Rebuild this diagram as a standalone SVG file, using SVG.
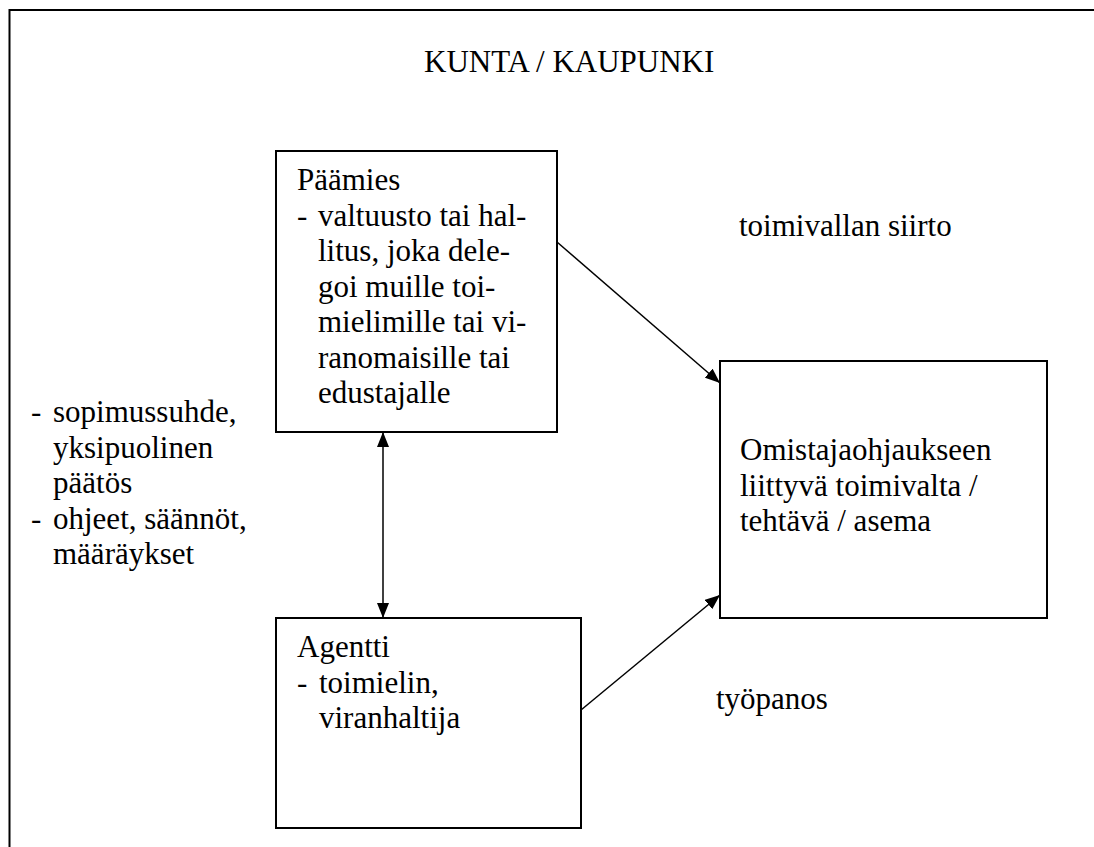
<svg xmlns="http://www.w3.org/2000/svg" width="1094" height="847" viewBox="0 0 1094 847">
<style>
  text { font-family: 'Liberation Serif', 'DejaVu Serif', serif; font-size: 31px; fill: #000; }
  .box { fill: #fff; stroke: #000; stroke-width: 2; }
  .frame { fill: none; stroke: #000; stroke-width: 2; }
  .conn { fill: none; stroke: #000; stroke-width: 1.5; }
</style>
<defs>
  <marker id="ah" markerUnits="userSpaceOnUse" markerWidth="16" markerHeight="12" refX="15" refY="6" orient="auto-start-reverse">
    <path d="M0,0 L15,6 L0,12 z" fill="#000"/>
  </marker>
</defs>
<rect width="1094" height="847" fill="#fff"/>
<g font-family="Liberation Serif, serif" font-size="31">
<g id="frame">
  <path class="frame" d="M9.5,847 V10 H1094"/>
  <text x="424" y="72">KUNTA / KAUPUNKI</text>
</g>
<g id="connectors">
  <line class="conn" x1="383" y1="432" x2="383" y2="618" marker-start="url(#ah)" marker-end="url(#ah)"/>
  <line class="conn" x1="557" y1="242" x2="720" y2="383" marker-end="url(#ah)"/>
  <line class="conn" x1="581" y1="710" x2="720" y2="595" marker-end="url(#ah)"/>
</g>
<g id="paamies">
  <rect class="box" x="276" y="151" width="281" height="281"/>
  <text x="297" y="190">Päämies</text>
  <text x="297" y="225.5">-</text>
  <text x="318" y="225.5">valtuusto tai hal-</text>
  <text x="318" y="261">litus, joka dele-</text>
  <text x="318" y="296.5">goi muille toi-</text>
  <text x="318" y="332">mielimille tai vi-</text>
  <text x="318" y="367.5">ranomaisille tai</text>
  <text x="318" y="403">edustajalle</text>
</g>
<g id="agentti">
  <rect class="box" x="276" y="618" width="305" height="210"/>
  <text x="297" y="657">Agentti</text>
  <text x="297" y="692.5">-</text>
  <text x="319" y="692.5">toimielin,</text>
  <text x="319" y="728">viranhaltija</text>
</g>
<g id="omistaja">
  <rect class="box" x="720" y="361" width="327" height="257"/>
  <text x="740" y="460">Omistajaohjaukseen</text>
  <text x="740" y="495.5">liittyvä toimivalta /</text>
  <text x="740" y="531">tehtävä / asema</text>
</g>
<g id="labels">
  <text x="739" y="236">toimivallan siirto</text>
  <text x="716" y="709">työpanos</text>
  <text x="31" y="422">-</text>
  <text x="53" y="422">sopimussuhde,</text>
  <text x="53" y="457.5">yksipuolinen</text>
  <text x="53" y="493">päätös</text>
  <text x="31" y="528.5">-</text>
  <text x="53" y="528.5">ohjeet, säännöt,</text>
  <text x="53" y="564">määräykset</text>
</g>
</g>
</svg>
